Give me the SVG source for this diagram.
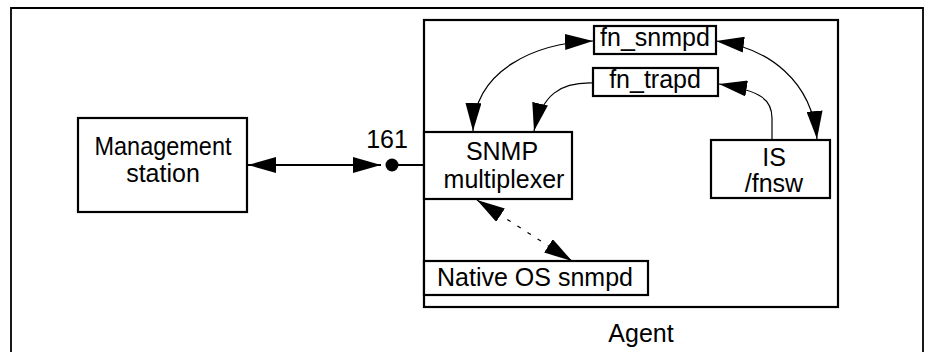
<svg xmlns="http://www.w3.org/2000/svg" width="927" height="352" viewBox="0 0 927 352">
<style>
.box{fill:#fff;stroke:#000;stroke-width:2.2}
.t{font-family:"Liberation Sans",Arial,Helvetica,sans-serif;font-size:25px;fill:#000;text-anchor:middle}
.c{fill:none;stroke:#000;stroke-width:1.2}
</style>
<defs>
<marker id="ah" viewBox="0 0 28 16" refX="28" refY="8" markerWidth="28" markerHeight="16" markerUnits="userSpaceOnUse" orient="auto-start-reverse">
<path d="M0,0 L28,8 L0,16 z" fill="#000"/>
</marker>
</defs>
<rect x="0" y="0" width="927" height="352" fill="#fff"/>
<path d="M11,353 V8 H923 V353" fill="none" stroke="#000" stroke-width="1.8"/>
<g id="agent">
<rect class="box" x="424" y="20" width="414" height="287"/>
<text class="t" x="641" y="342">Agent</text>
</g>
<g id="management-station">
<rect class="box" x="78" y="118" width="169" height="94"/>
<text class="t" x="163" y="155" textLength="137" lengthAdjust="spacingAndGlyphs">Management</text>
<text class="t" x="163" y="182">station</text>
</g>
<g id="port-161">
<circle cx="392" cy="165" r="6.5" fill="#000"/>
<text class="t" x="387" y="148">161</text>
</g>
<g id="snmp-multiplexer">
<rect class="box" x="424" y="132" width="148" height="67"/>
<text class="t" x="502" y="160">SNMP</text>
<text class="t" x="504" y="188">multiplexer</text>
</g>
<g id="fn-snmpd">
<rect class="box" x="594" y="26" width="122" height="28"/>
<text class="t" x="655" y="46">fn_snmpd</text>
</g>
<g id="fn-trapd">
<rect class="box" x="593" y="68" width="125" height="28"/>
<text class="t" x="655" y="88">fn_trapd</text>
</g>
<g id="is-fnsw">
<rect class="box" x="711" y="140" width="119" height="58"/>
<text class="t" x="774" y="166" font-size="24">IS</text>
<text class="t" x="774" y="192" font-size="24">/fnsw</text>
</g>
<g id="native-os-snmpd">
<rect class="box" x="424" y="261" width="224" height="34"/>
<text class="t" x="535" y="286">Native OS snmpd</text>
</g>
<g id="connectors">
<path d="M248,165 H381" fill="none" stroke="#000" stroke-width="2" marker-start="url(#ah)" marker-end="url(#ah)"/>
<path d="M392,165 H424" fill="none" stroke="#000" stroke-width="2"/>
<path class="c" d="M593,41 C535,43 474,70 473,131" marker-start="url(#ah)" marker-end="url(#ah)"/>
<path class="c" d="M593,83 C560,82 542,95 534,131" marker-end="url(#ah)"/>
<path class="c" d="M716,41 C770,48 812,82 817,139" marker-start="url(#ah)" marker-end="url(#ah)"/>
<path class="c" d="M772,140 V118 C772,100 762,91 719,84" marker-end="url(#ah)"/>
<path class="c" d="M477,200 L572,261" stroke-dasharray="4 8" marker-start="url(#ah)" marker-end="url(#ah)"/>
</g>
</svg>
